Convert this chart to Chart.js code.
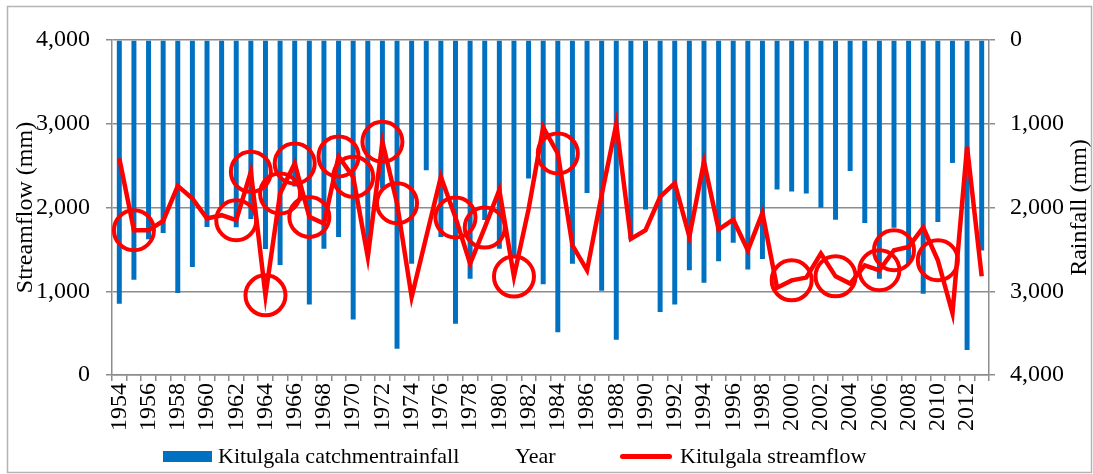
<!DOCTYPE html>
<html>
<head>
<meta charset="utf-8">
<script src="https://cdn.jsdelivr.net/npm/chart.js@4.4.1/dist/chart.umd.min.js"></script>
<style>
  body { margin: 0; background: #fff; }
  #wrap { position: relative; width: 1093px; height: 474px; }
  #legend { position: absolute; left: 0; top: 0; width: 1093px; height: 474px; pointer-events: none;
            font: 22px "Liberation Serif", "Times New Roman", serif; line-height: 26px; color: #000; }
  #legend span { position: absolute; white-space: nowrap; }
</style>
</head>
<body>
<div id="wrap">
  <canvas id="chart" width="1093" height="474"></canvas>
  <div id="legend"></div>
</div>
<script>
const years = [];
for (let y = 1954; y <= 2013; y++) years.push(y);

// annual catchment rainfall (mm)
const rainfall = [
  3150, 2863, 2380, 2305, 3022, 2709, 2233, 1980, 2237, 2137,
  2496, 2688, 1750, 3158, 2494, 2352, 3337, 2560, 1774, 3688,
  2671, 1555, 2352, 3389, 2850, 2150, 2492, 2600, 1654, 2915,
  3489, 2671, 1826, 2995, 3580, 2380, 2025, 3249, 3158, 2750,
  2899, 2643, 2420, 2739, 2616, 1786, 1810, 1834, 2002, 2145,
  1563, 2185, 2850, 2241, 2671, 3030, 2173, 1468, 3700, 2512
];

// annual streamflow (mm)
const streamflow = [
  2586, 1728, 1728, 1840, 2258, 2108, 1868, 1908, 1848, 2426,
  951, 2167, 2526, 1888, 1808, 2610, 2366, 1409, 2785, 2050,
  931, 1651, 2366, 1880, 1330, 1760, 2210, 1175, 1980, 2957,
  2646, 1549, 1250, 2150, 2996, 1625, 1730, 2127, 2290, 1652,
  2546, 1737, 1856, 1489, 1936, 1043, 1130, 1163, 1450, 1178,
  1091, 1310, 1250, 1489, 1529, 1761, 1370, 739, 2725, 1178
];

// years marked with a red ring
const circledYears = [1955, 1962, 1963, 1964, 1965, 1966, 1967, 1969, 1970, 1972,
                      1973, 1977, 1979, 1981, 1984, 2000, 2003, 2006, 2007, 2010];

const yTicks = [0, 1000, 2000, 3000, 4000];

const circled = years.map((y, i) => circledYears.includes(y) ? streamflow[i] : null);

Chart.defaults.font.family = "'Liberation Serif', 'Times New Roman', serif";
Chart.defaults.font.size = 24;
Chart.defaults.color = '#000';

const gray = '#8c8c8c';

const framePlugin = {
  id: 'frame',
  beforeDraw(chart) {
    const ctx = chart.ctx;
    ctx.save();
    ctx.fillStyle = '#fff';
    ctx.fillRect(0, 0, chart.width, chart.height);
    ctx.strokeStyle = '#b4b4b4';
    ctx.lineWidth = 1.5;
    ctx.strokeRect(7.5, 6.5, 1084, 466);
    ctx.restore();
  },
  afterDraw(chart) {
    // right axis title reads bottom to top, like the left one
    const ctx = chart.ctx;
    const s = chart.scales.y2;
    ctx.save();
    ctx.font = "24px 'Liberation Serif', 'Times New Roman', serif";
    ctx.fillStyle = '#000';
    ctx.translate(s.right - 13, (chart.chartArea.top + chart.chartArea.bottom) / 2);
    ctx.rotate(-Math.PI / 2);
    ctx.textAlign = 'center';
    ctx.textBaseline = 'middle';
    ctx.fillText('Rainfall (mm)', 0, 0);
    ctx.restore();
  }
};

const chart = new Chart(document.getElementById('chart'), {
  data: {
    labels: years,
    datasets: [
      {
        type: 'bar',
        label: 'Kitulgala catchmentrainfall',
        data: rainfall,
        yAxisID: 'y2',
        backgroundColor: '#0070C0',
        barPercentage: 0.34,
        categoryPercentage: 1,
        order: 3
      },
      {
        type: 'line',
        label: 'Kitulgala streamflow',
        data: streamflow,
        yAxisID: 'y',
        borderColor: '#FF0000',
        borderWidth: 4.5,
        borderJoinStyle: 'miter',
        pointRadius: 0,
        tension: 0,
        order: 2
      },
      {
        type: 'line',
        label: 'rings',
        data: circled,
        yAxisID: 'y',
        showLine: false,
        pointRadius: 20,
        pointBorderWidth: 4,
        pointBorderColor: '#FF0000',
        pointBackgroundColor: 'rgba(0,0,0,0)',
        order: 1
      }
    ]
  },
  options: {
    responsive: false,
    animation: false,
    devicePixelRatio: 1,
    layout: { padding: { top: 40, left: 0, right: 0, bottom: 0 } },
    plugins: {
      legend: { display: false },
      tooltip: { enabled: false }
    },
    scales: {
      x: {
        offset: true,
        grid: { drawOnChartArea: false, drawTicks: true, tickLength: 6, offset: true, color: gray, lineWidth: 1.5 },
        border: { color: gray, width: 1.5 },
        ticks: {
          autoSkip: false,
          maxRotation: 90,
          minRotation: 90,
          padding: 2,
          callback: function (v, i) { return i % 2 === 0 ? this.getLabelForValue(v) : ''; }
        },
        afterFit: s => { s.height = 99; }
      },
      y: {
        position: 'left',
        min: 0,
        max: 4000,
        afterBuildTicks: s => { s.ticks = yTicks.map(v => ({ value: v })); },
        ticks: { padding: 16 },
        grid: { color: gray, lineWidth: 1.5, tickLength: 6 },
        border: { color: gray, width: 1.5 },
        title: { display: true, text: 'Streamflow (mm)', padding: { top: 11, bottom: 0 } },
        afterFit: s => { s.width = 112; }
      },
      y2: {
        position: 'right',
        reverse: true,
        min: 0,
        max: 4000,
        afterBuildTicks: s => { s.ticks = yTicks.map(v => ({ value: v })); },
        ticks: { padding: 15 },
        grid: { drawOnChartArea: false, color: gray, lineWidth: 1.5, tickLength: 6 },
        border: { color: gray, width: 1.5 },
        afterFit: s => { s.width = 104; }
      }
    }
  },
  plugins: [framePlugin]
});

// legend row with the x axis title between the two entries
const legend = document.getElementById('legend');
const bars = chart.data.datasets[0];
const line = chart.data.datasets[1];
function add(style, text) {
  const el = document.createElement('span');
  Object.assign(el.style, style);
  if (text) el.textContent = text;
  legend.appendChild(el);
}
add({ left: '163px', top: '451px', width: '49px', height: '11px', background: bars.backgroundColor });
add({ left: '218px', top: '443px' }, bars.label);
add({ left: '515px', top: '443px' }, 'Year');
add({ left: '620px', top: '454px', width: '52px', height: '5px', background: line.borderColor, borderRadius: '3px' });
add({ left: '680px', top: '443px' }, line.label);
</script>
</body>
</html>
